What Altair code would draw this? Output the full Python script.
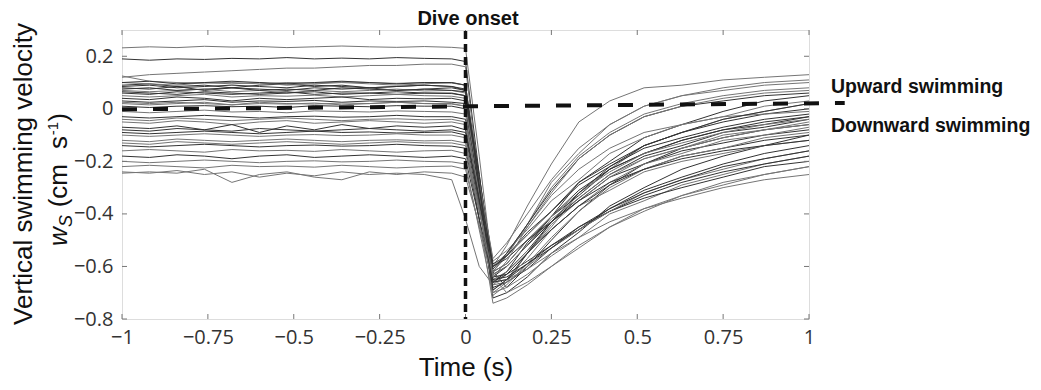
import altair as alt
import pandas as pd

# time grid (s)
T = [-1.0, -0.92, -0.84, -0.76, -0.68, -0.60, -0.52, -0.44, -0.36, -0.28, -0.20, -0.12, -0.04,
     0.0, 0.04, 0.08,
     0.12, 0.18, 0.25, 0.33, 0.42, 0.52, 0.63, 0.75, 0.87, 1.0]

# individual vertical swimming velocity traces (cm s-1)
w01 = [0.232, 0.236, 0.233, 0.238, 0.235, 0.237, 0.233, 0.236, 0.239, 0.236, 0.234, 0.237, 0.234,
       0.23, -0.18, -0.62, -0.55, -0.44, -0.28, -0.17, -0.06, 0.01, 0.05, 0.08, 0.10, 0.11]
w02 = [0.19, 0.185, 0.19, 0.188, 0.192, 0.19, 0.195, 0.19, 0.193, 0.19, 0.195, 0.192, 0.19,
       0.18, -0.25, -0.66, -0.62, -0.51, -0.41, -0.28, -0.20, -0.11, -0.06, -0.01, 0.03, 0.05]
w03 = [0.12, 0.13, 0.135, 0.14, 0.145, 0.15, 0.155, 0.155, 0.16, 0.165, 0.165, 0.17, 0.17,
       0.16, -0.28, -0.70, -0.66, -0.55, -0.45, -0.32, -0.23, -0.14, -0.09, -0.04, -0.01, 0.02]
w04 = [0.125, 0.105, 0.10, 0.098, 0.10, 0.095, 0.10, 0.098, 0.102, 0.10, 0.097, 0.10, 0.098,
       0.09, -0.28, -0.60, -0.52, -0.37, -0.21, -0.05, 0.03, 0.08, 0.09, 0.11, 0.12, 0.13]
w05 = [0.09, 0.095, 0.085, 0.09, 0.08, 0.09, 0.095, 0.085, 0.09, 0.08, 0.085, 0.09, 0.085,
       0.07, -0.30, -0.64, -0.60, -0.52, -0.41, -0.33, -0.23, -0.17, -0.12, -0.08, -0.06, -0.03]
w06 = [0.08, 0.075, 0.085, 0.07, 0.08, 0.075, 0.07, 0.08, 0.075, 0.08, 0.07, 0.075, 0.08,
       0.07, -0.25, -0.62, -0.68, -0.60, -0.50, -0.39, -0.29, -0.21, -0.15, -0.11, -0.08, -0.06]
w07 = [0.07, 0.065, 0.07, 0.075, 0.065, 0.07, 0.06, 0.07, 0.065, 0.07, 0.075, 0.068, 0.07,
       0.06, -0.30, -0.62, -0.56, -0.44, -0.30, -0.18, -0.09, -0.02, 0.02, 0.05, 0.07, 0.08]
w08 = [0.06, 0.055, 0.065, 0.06, 0.055, 0.06, 0.065, 0.055, 0.06, 0.06, 0.055, 0.06, 0.058,
       0.05, -0.33, -0.72, -0.70, -0.64, -0.55, -0.47, -0.37, -0.30, -0.23, -0.18, -0.14, -0.10]
w09 = [0.05, 0.045, 0.05, 0.055, 0.045, 0.05, 0.048, 0.052, 0.045, 0.05, 0.055, 0.05, 0.048,
       0.04, -0.27, -0.58, -0.54, -0.46, -0.35, -0.27, -0.17, -0.11, -0.06, -0.03, 0.01, 0.03]
w10 = [0.04, 0.035, 0.045, 0.04, 0.03, 0.04, 0.035, 0.04, 0.045, 0.035, 0.04, 0.038, 0.04,
       0.03, -0.31, -0.66, -0.62, -0.54, -0.43, -0.34, -0.25, -0.18, -0.14, -0.09, -0.07, -0.04]
w11 = [0.03, 0.025, 0.03, 0.035, 0.025, 0.03, 0.028, 0.032, 0.025, 0.03, 0.028, 0.03, 0.025,
       0.02, -0.30, -0.63, -0.60, -0.52, -0.43, -0.35, -0.26, -0.21, -0.16, -0.13, -0.10, -0.08]
w12 = [0.02, 0.015, 0.02, 0.025, 0.015, 0.02, 0.018, 0.022, 0.015, 0.02, 0.025, 0.02, 0.018,
       0.01, -0.35, -0.70, -0.68, -0.63, -0.56, -0.49, -0.40, -0.35, -0.29, -0.25, -0.21, -0.18]
w13 = [0.01, 0.005, 0.01, 0.012, 0.008, 0.01, 0.005, 0.012, 0.01, 0.008, 0.012, 0.01, 0.01,
       0.0, -0.30, -0.60, -0.56, -0.48, -0.39, -0.28, -0.21, -0.14, -0.09, -0.05, -0.02, 0.0]
w14 = [0.10, 0.095, 0.09, 0.10, 0.095, 0.10, 0.09, 0.095, 0.10, 0.095, 0.09, 0.095, 0.10,
       0.09, -0.28, -0.65, -0.62, -0.54, -0.46, -0.37, -0.31, -0.24, -0.20, -0.17, -0.14, -0.12]
w15 = [0.075, 0.08, 0.07, 0.075, 0.08, 0.07, 0.075, 0.07, 0.08, 0.075, 0.07, 0.075, 0.07,
       0.065, -0.26, -0.59, -0.56, -0.47, -0.39, -0.29, -0.22, -0.15, -0.11, -0.07, -0.04, -0.02]
w16 = [-0.01, -0.015, -0.01, -0.005, -0.012, -0.01, -0.015, -0.008, -0.01, -0.012, -0.008, -0.01, -0.012,
       -0.02, -0.34, -0.67, -0.63, -0.55, -0.44, -0.35, -0.26, -0.19, -0.15, -0.10, -0.08, -0.05]
w17 = [-0.03, -0.035, -0.03, -0.025, -0.03, -0.035, -0.03, -0.028, -0.032, -0.03, -0.025, -0.03, -0.03,
       -0.04, -0.34, -0.64, -0.63, -0.58, -0.52, -0.46, -0.39, -0.34, -0.30, -0.26, -0.22, -0.20]
w18 = [-0.05, -0.055, -0.045, -0.05, -0.06, -0.05, -0.045, -0.055, -0.05, -0.045, -0.05, -0.055, -0.05,
       -0.06, -0.37, -0.69, -0.65, -0.57, -0.46, -0.37, -0.28, -0.21, -0.17, -0.12, -0.10, -0.07]
w19 = [-0.07, -0.075, -0.065, -0.08, -0.06, -0.09, -0.065, -0.08, -0.06, -0.075, -0.065, -0.07, -0.065,
       -0.08, -0.35, -0.62, -0.59, -0.50, -0.41, -0.31, -0.23, -0.17, -0.12, -0.08, -0.05, -0.03]
w20 = [-0.09, -0.095, -0.09, -0.085, -0.09, -0.095, -0.09, -0.085, -0.09, -0.088, -0.092, -0.09, -0.088,
       -0.10, -0.38, -0.66, -0.63, -0.55, -0.46, -0.37, -0.29, -0.23, -0.18, -0.15, -0.12, -0.10]
w21 = [-0.10, -0.105, -0.10, -0.095, -0.10, -0.105, -0.10, -0.098, -0.102, -0.10, -0.095, -0.10, -0.10,
       -0.11, -0.42, -0.74, -0.72, -0.67, -0.60, -0.52, -0.45, -0.39, -0.33, -0.29, -0.25, -0.22]
w22 = [-0.12, -0.125, -0.115, -0.12, -0.125, -0.12, -0.115, -0.12, -0.125, -0.12, -0.118, -0.122, -0.12,
       -0.13, -0.38, -0.63, -0.60, -0.52, -0.42, -0.34, -0.25, -0.19, -0.15, -0.11, -0.08, -0.06]
w23 = [-0.14, -0.145, -0.14, -0.135, -0.14, -0.145, -0.14, -0.138, -0.142, -0.14, -0.135, -0.14, -0.142,
       -0.15, -0.42, -0.68, -0.66, -0.61, -0.53, -0.46, -0.38, -0.31, -0.26, -0.21, -0.17, -0.14]
w24 = [-0.16, -0.155, -0.16, -0.165, -0.155, -0.16, -0.158, -0.162, -0.155, -0.16, -0.165, -0.16, -0.158,
       -0.17, -0.39, -0.60, -0.55, -0.45, -0.33, -0.23, -0.15, -0.09, -0.06, -0.03, -0.02, -0.01]
w25 = [-0.18, -0.185, -0.175, -0.18, -0.19, -0.18, -0.175, -0.185, -0.18, -0.175, -0.18, -0.185, -0.18,
       -0.19, -0.42, -0.65, -0.64, -0.59, -0.52, -0.45, -0.39, -0.33, -0.28, -0.24, -0.21, -0.18]
w26 = [-0.20, -0.205, -0.20, -0.195, -0.20, -0.205, -0.20, -0.198, -0.202, -0.20, -0.195, -0.20, -0.202,
       -0.21, -0.46, -0.71, -0.67, -0.59, -0.49, -0.39, -0.30, -0.23, -0.18, -0.15, -0.11, -0.09]
w27 = [-0.22, -0.215, -0.22, -0.225, -0.215, -0.22, -0.218, -0.222, -0.215, -0.22, -0.225, -0.22, -0.218,
       -0.23, -0.45, -0.66, -0.65, -0.61, -0.55, -0.49, -0.43, -0.38, -0.34, -0.30, -0.27, -0.25]
w28 = [-0.245, -0.24, -0.245, -0.23, -0.28, -0.25, -0.24, -0.26, -0.27, -0.24, -0.25, -0.24, -0.245,
       -0.26, -0.44, -0.62, -0.59, -0.50, -0.41, -0.32, -0.24, -0.17, -0.13, -0.09, -0.06, -0.04]
w29 = [-0.24, -0.245, -0.235, -0.25, -0.24, -0.26, -0.245, -0.255, -0.24, -0.25, -0.245, -0.25, -0.27,
       -0.42, -0.60, -0.67, -0.66, -0.60, -0.53, -0.46, -0.39, -0.32, -0.27, -0.23, -0.19, -0.16]
w30 = [0.065, 0.06, 0.055, 0.065, 0.06, 0.055, 0.06, 0.065, 0.055, 0.06, 0.065, 0.06, 0.06,
       0.05, -0.28, -0.61, -0.55, -0.44, -0.31, -0.19, -0.10, -0.03, 0.01, 0.03, 0.05, 0.06]
w31 = [0.025, 0.02, 0.025, 0.02, 0.015, 0.025, 0.02, 0.018, 0.022, 0.02, 0.025, 0.02, 0.02,
       0.01, -0.28, -0.57, -0.51, -0.40, -0.27, -0.15, -0.06, 0.01, 0.05, 0.07, 0.09, 0.10]
w32 = [-0.04, -0.045, -0.035, -0.04, -0.045, -0.04, -0.035, -0.04, -0.045, -0.04, -0.038, -0.042, -0.04,
       -0.05, -0.32, -0.64, -0.70, -0.66, -0.60, -0.53, -0.45, -0.38, -0.33, -0.28, -0.25, -0.22]
w33 = [0.085, 0.09, 0.08, 0.085, 0.09, 0.085, 0.08, 0.09, 0.085, 0.08, 0.085, 0.09, 0.085,
       0.075, -0.29, -0.66, -0.65, -0.59, -0.53, -0.45, -0.38, -0.32, -0.27, -0.22, -0.19, -0.16]
w34 = [-0.08, -0.085, -0.075, -0.08, -0.085, -0.075, -0.08, -0.085, -0.08, -0.075, -0.08, -0.085, -0.08,
       -0.09, -0.35, -0.60, -0.57, -0.50, -0.43, -0.35, -0.28, -0.23, -0.19, -0.16, -0.14, -0.12]
w35 = [0.10, 0.105, 0.095, 0.10, 0.105, 0.10, 0.095, 0.10, 0.105, 0.10, 0.095, 0.10, 0.10,
       0.09, -0.30, -0.69, -0.65, -0.55, -0.43, -0.32, -0.22, -0.14, -0.09, -0.04, -0.01, 0.02]
w36 = [-0.13, -0.135, -0.125, -0.13, -0.135, -0.13, -0.125, -0.13, -0.135, -0.13, -0.125, -0.13, -0.13,
       -0.14, -0.39, -0.64, -0.58, -0.45, -0.32, -0.19, -0.10, -0.03, 0.01, 0.04, 0.06, 0.07]

TRACES = [w01, w02, w03, w04, w05, w06, w07, w08, w09, w10, w11, w12, w13, w14, w15, w16, w17, w18,
          w19, w20, w21, w22, w23, w24, w25, w26, w27, w28, w29, w30, w31, w32, w33, w34, w35, w36]
SHADE = ["g", "d", "g", "g", "d", "d", "g", "d", "g", "d", "d", "g", "d", "g", "d", "g", "d", "g",
         "d", "d", "g", "g", "d", "g", "d", "g", "g", "g", "g", "d", "g", "g", "d", "d", "d", "g"]

X_TICKS = [-1, -0.75, -0.5, -0.25, 0, 0.25, 0.5, 0.75, 1]
Y_TICKS = [-0.8, -0.6, -0.4, -0.2, 0, 0.2]

# reference lines
ZERO_T = [-1.0, 1.104]
ZERO_V = [-0.002, 0.022]
ONSET_T = [0.0, 0.0]
ONSET_V = [0.296, -0.8]

rows = []
for i, (vals, sh) in enumerate(zip(TRACES, SHADE)):
    for t, v in zip(T, vals):
        rows.append({"trace": i, "t": t, "v": v, "col": "#333333" if sh == "d" else "#757575"})
df = pd.DataFrame(rows)

W, H = 687, 289
FONT = "Liberation Sans"
TICKFONT = "Open Sans"
LABEL_EXPR = "format(datum.value, '.2~f')"

xaxis = alt.Axis(values=X_TICKS, labelExpr=LABEL_EXPR, title=None, ticks=False, domain=False, grid=False,
                 labelFont=TICKFONT, labelFontSize=20, labelColor="#333", labelPadding=8,
                 labelFlush=False, labelOverlap=False)
yaxis = alt.Axis(values=Y_TICKS, labelExpr=LABEL_EXPR, title=None, ticks=False, domain=False, grid=False,
                 labelFont=TICKFONT, labelFontSize=20, labelColor="#333", labelPadding=9,
                 labelFlush=False, labelOverlap=False)
xs = alt.Scale(domain=[-1, 1], nice=False, zero=False)
ys = alt.Scale(domain=[-0.8, 0.3], nice=False, zero=False)
X = alt.X("t:Q", scale=xs, axis=xaxis)
Y = alt.Y("v:Q", scale=ys, axis=yaxis)

lines = alt.Chart(df).mark_line(strokeWidth=1, clip=True).encode(
    x=X, y=Y, detail="trace:N", color=alt.Color("col:N", scale=None)
)

zero_line = alt.Chart(pd.DataFrame({"t": ZERO_T, "v": ZERO_V})).mark_line(
    color="#111", strokeWidth=4, strokeDash=[15, 16], clip=False
).encode(x=X, y=Y)

onset_line = alt.Chart(pd.DataFrame({"t": ONSET_T, "v": ONSET_V, "o": [0, 1]})).mark_line(
    color="#111", strokeWidth=3.5, strokeDash=[8, 5], clip=False
).encode(x=X, y=Y, order="o:Q")

xt = pd.DataFrame({"t": X_TICKS})
yt = pd.DataFrame({"v": Y_TICKS})
tick_style = dict(color="#777", strokeWidth=1)
tb = alt.Chart(xt).mark_rule(**tick_style).encode(x=X, y=alt.value(H), y2=alt.value(H - 5))
tt = alt.Chart(xt).mark_rule(**tick_style).encode(x=X, y=alt.value(0), y2=alt.value(5))
tl = alt.Chart(yt).mark_rule(**tick_style).encode(y=Y, x=alt.value(0), x2=alt.value(5))
tr = alt.Chart(yt).mark_rule(**tick_style).encode(y=Y, x=alt.value(W), x2=alt.value(W - 5))


def label(txt, x, y, size=20, weight="bold", align="left", angle=0, font=FONT, style="normal"):
    kw = dict(font=font, fontSize=size, fontWeight=weight, align=align, baseline="alphabetic",
              color="#111", fontStyle=style)
    if angle:
        kw["angle"] = angle
    return alt.Chart(pd.DataFrame({"s": [txt]})).mark_text(**kw).encode(
        text="s:N", x=alt.value(x), y=alt.value(y)
    )


texts = [
    label("Dive onset", 346, -5, align="center"),
    label("Upward swimming", 709, 63, size=19.5),
    label("Downward swimming", 709, 102, size=19.5),
    label("Time (s)", 344, 346, size=26, weight="normal", align="center"),
    label("Vertical swimming velocity", -90, 144, size=26, weight="normal", align="center", angle=270),
    label(")", -55, 83, size=26, weight="normal", align="right", angle=270),
    label("-1", -64, 92, size=15, weight="normal", align="right", angle=270),
    label("s", -55, 106, size=26, weight="normal", align="right", angle=270),
    label("(cm", -55, 134, size=26, weight="normal", align="right", angle=270),
    label("S", -50, 197, size=18, weight="normal", align="left", angle=270, style="italic"),
    label("w", -55, 216, size=26, weight="normal", align="left", angle=270, style="italic"),
]

chart = alt.layer(lines, tb, tt, tl, tr, zero_line, onset_line, *texts).properties(
    width=W, height=H,
    autosize=alt.AutoSizeParams(type="none"),
    padding={"left": 114, "top": 22, "right": 224, "bottom": 66},
).configure_view(stroke="#666", strokeWidth=1.5).configure(background="white")

chart.save("out.html", embed_options={"renderer": "svg", "actions": False})
